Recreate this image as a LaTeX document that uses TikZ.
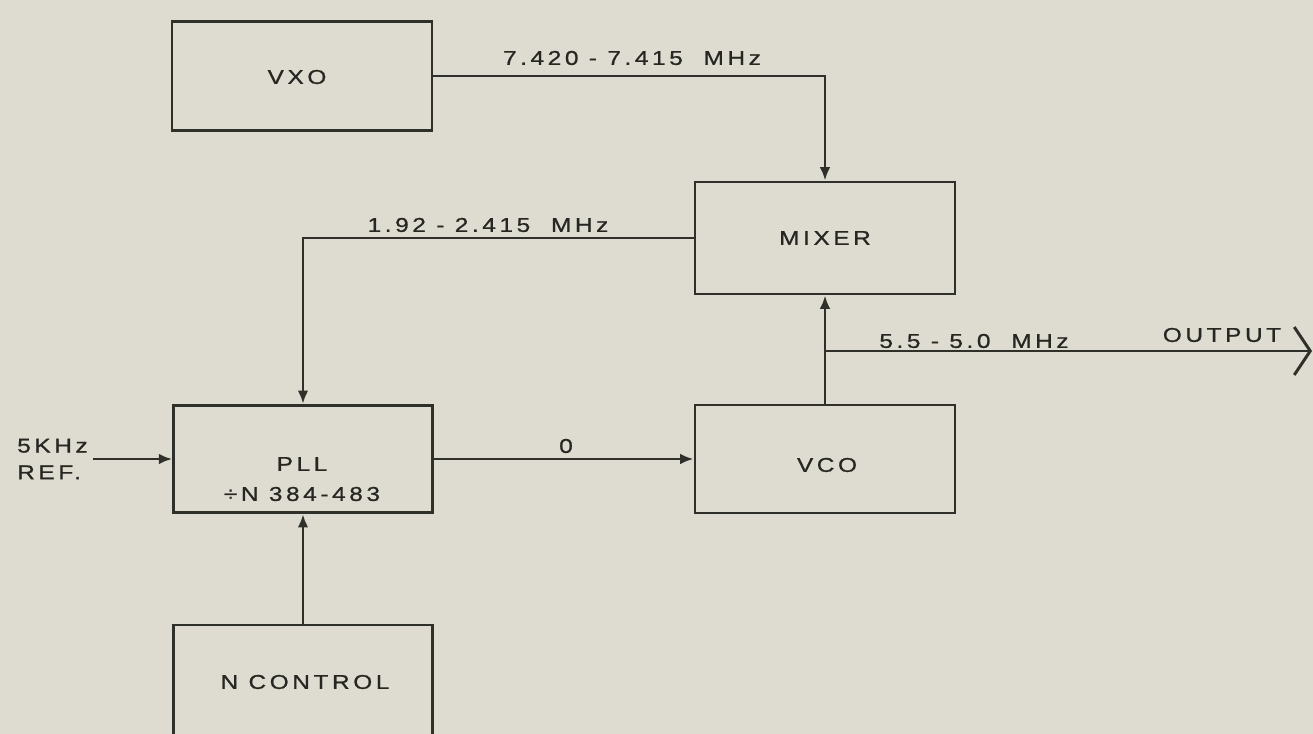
\documentclass[tikz,border=0pt]{standalone}
\usepackage{fontspec}
\setmainfont{Liberation Sans}[FakeStretch=1.22, LetterSpace=18, FakeBold=0.9]
\usetikzlibrary{arrows.meta}
\definecolor{bg}{RGB}{222,220,208}
\definecolor{ink}{RGB}{48,48,42}
\definecolor{txt}{RGB}{38,38,34}
\tikzset{
  blk/.style={draw=ink, line width=2.2pt, fill=none, inner sep=0pt, text=txt,
    font=\fontsize{15}{18}\selectfont, align=center},
  lbl/.style={inner sep=0pt, text=txt, font=\fontsize{15}{18}\selectfont},
  wire/.style={draw=ink, line width=2.2pt},
  arr/.style={wire, -{Latex[length=10pt,width=8pt]}},
  outarr/.style={wire, -{Straight Barb[length=12pt,width=36pt,line width=2.2pt]}}
}
\begin{document}
\begin{tikzpicture}[x=0.75pt,y=-0.75pt]
\fill[bg] (0,0) rectangle (1313,734);
\clip (0,0) rectangle (1313,734);
\useasboundingbox (0,0) rectangle (1313,734);

\node[blk, minimum width=195pt, minimum height=82pt] (vxo) at (302,76) {};
\node[lbl] (vxotxt) at (297,77) {VXO};
\node[blk, minimum width=195pt, minimum height=84pt] (mixer) at (825,238) {MIXER};
\node[blk, minimum width=194pt, minimum height=80.5pt] (pll) at (303,459) {};
\node[lbl] (plltxt1) at (302,464) {PLL};
\node[lbl] (plltxt2) at (302,494) {÷N 384-483};
\node[blk, minimum width=195pt, minimum height=81pt] (vco) at (825,459) {};
\node[lbl] (vcotxt) at (827,465) {VCO};
\node[blk, minimum width=194pt, minimum height=90pt] (nctrl) at (303,685) {};
\node[lbl] (nctrltxt) at (305,682) {N CONTROL};

\node[lbl, align=left, anchor=west] (ref) at (17,459) {5KHz\\[2pt]REF.};

\coordinate (refout) at (93,459);
\coordinate (branch) at (825,351);
\coordinate (out) at (1312,351);

\draw[arr] (vxo.east) -| (mixer.north);
\draw[arr] (mixer.west) -| (pll.north);
\draw[arr] (vco.north) -- (mixer.south);
\draw[outarr] (branch) -- (out);
\draw[arr] (pll.east) -- (vco.west);
\draw[arr] (refout) -- (pll.west);
\draw[arr] (nctrl.north) -- (pll.south);

\node[lbl] (f1) at (632,58) {7.420 - 7.415 \ MHz};
\node[lbl] (f2) at (488,225) {1.92 - 2.415 \ MHz};
\node[lbl] (f3) at (566,446) {0};
\node[lbl] (f4) at (974,341) {5.5 - 5.0 \ MHz};
\node[lbl] (f5) at (1222,335) {OUTPUT};
\end{tikzpicture}
\end{document}
